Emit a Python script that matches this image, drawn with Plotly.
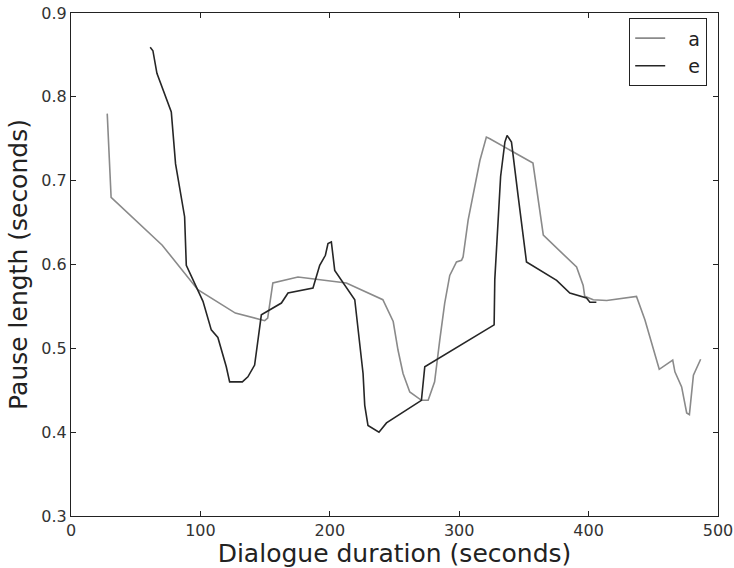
import plotly.graph_objects as go

# Series "a"
a_x = [28, 31, 70.5, 98, 127, 149.7, 152, 156, 175.4, 212.8, 241, 249, 252.7, 256.6, 261.8,
       270.8, 276, 281, 285, 288.8, 292.7, 297.9, 301.8, 303, 306.9, 316, 321, 323.7, 357,
       365, 390.7, 394.6, 395.8, 397, 403.6, 414, 437, 443.5, 450, 454.6, 465, 466.7, 471.9,
       475.8, 477.9, 481, 486.6]
a_y = [0.780, 0.680, 0.623, 0.570, 0.542, 0.533, 0.536, 0.578, 0.585, 0.578, 0.558, 0.532, 0.498,
       0.470, 0.448, 0.438, 0.438, 0.460, 0.510, 0.554, 0.587, 0.603, 0.605, 0.609, 0.653, 0.724,
       0.752, 0.750, 0.721, 0.635, 0.597, 0.581, 0.575, 0.562, 0.558, 0.557, 0.562, 0.534, 0.498,
       0.475, 0.486, 0.472, 0.454, 0.423, 0.421, 0.468, 0.487]

# Series "e"
e_x = [61.2, 63.3, 66.4, 77.5, 80.8, 87.8, 89.1, 102, 108.4, 113.5, 120, 122.6, 132.4, 136.7,
       141.9, 147.1, 162.6, 167.7, 187, 192.2, 196.6, 198.6, 201.2, 203.8, 219.3, 225.7, 227,
       229.5, 238, 243.8, 270.8, 273.4, 327, 327.5, 332, 335.3, 337, 340.4, 345.6, 352, 375.3,
       385.5, 398.4, 401, 406]
e_y = [0.859, 0.855, 0.828, 0.782, 0.720, 0.657, 0.599, 0.556, 0.522, 0.513, 0.478, 0.460, 0.460,
       0.466, 0.480, 0.540, 0.554, 0.566, 0.572, 0.599, 0.611, 0.625, 0.627, 0.593, 0.558, 0.470,
       0.432, 0.408, 0.400, 0.411, 0.438, 0.478, 0.528, 0.582, 0.705, 0.746, 0.754, 0.746, 0.681,
       0.603, 0.581, 0.566, 0.560, 0.555, 0.555]

x_ticks = [0, 100, 200, 300, 400, 500]
y_ticks = [0.3, 0.4, 0.5, 0.6, 0.7, 0.8, 0.9]

pad = "\u00a0" * 3
fig = go.Figure()
fig.add_trace(go.Scatter(x=a_x, y=a_y, mode="lines", name=pad + "a",
                         line=dict(color="#8a8a8a", width=1.6)))
fig.add_trace(go.Scatter(x=e_x, y=e_y, mode="lines", name=pad + "e",
                         line=dict(color="#262626", width=1.6)))

axis_common = dict(showline=True, linecolor="#222222", linewidth=1.2, mirror="ticks",
                   ticks="inside", ticklen=5, tickcolor="#222222", showgrid=False,
                   zeroline=False, automargin=False,
                   tickfont=dict(family="DejaVu Sans", size=16, color="#333333"))

fig.update_layout(
    width=734, height=568,
    margin=dict(l=71, r=16, t=13, b=52),
    plot_bgcolor="white", paper_bgcolor="white",
    font=dict(family="DejaVu Sans", color="#222222"),
    xaxis=dict(range=[0, 500], tickvals=x_ticks, ticktext=[str(v) for v in x_ticks],
               title=dict(text="Dialogue duration (seconds)", font=dict(size=25), standoff=2),
               **axis_common),
    yaxis=dict(range=[0.3, 0.9], tickvals=y_ticks, ticktext=[f"{v:.1f}" for v in y_ticks],
               title=dict(text="Pause length (seconds)", font=dict(size=25), standoff=6),
               **axis_common),
    legend=dict(x=0.983, y=0.99, xanchor="right", yanchor="top",
                bordercolor="#222222", borderwidth=1.2, bgcolor="white",
                font=dict(size=19, family="DejaVu Sans"),
                itemwidth=30),
    showlegend=True,
)

fig.write_html("out.html")
